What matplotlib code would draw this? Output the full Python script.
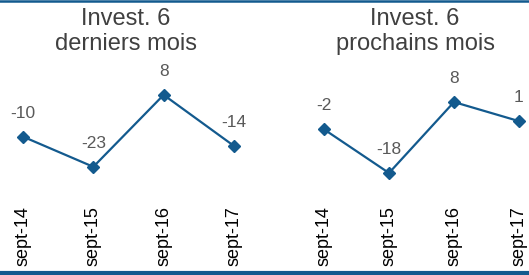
import matplotlib
matplotlib.use("Agg")
import matplotlib.pyplot as plt
from matplotlib.lines import Line2D

plt.rcParams['font.family'] = ['Liberation Sans', 'DejaVu Sans']

# data
periods = ["sept-14", "sept-15", "sept-16", "sept-17"]
invest_past = [-10, -23, 8, -14]
invest_next = [-2, -18, 8, 1]
titles = ["Invest. 6\nderniers mois", "Invest. 6\nprochains mois"]

W, H = 529, 275
blue = "#135a8e"
grey_lbl = "#595959"
grey_title = "#404040"

fig = plt.figure(figsize=(W / 100, H / 100), dpi=100)

# axes boxes in pixels (left, top, right, bottom) + limits
panels = [
    dict(box=(0, 0, 264, 200), xlim=(-0.327, 3.427), ylim=(-37.3, 48.9),
         vals=invest_past, title_x=126),
    dict(box=(264, 0, 529, 200), xlim=(-0.923, 3.154), ylim=(-27.9, 45.4),
         vals=invest_next, title_x=415),
]

for p, title in zip(panels, titles):
    l, t, r, b = p["box"]
    ax = fig.add_axes([l / W, 1 - b / H, (r - l) / W, (b - t) / H])
    ax.patch.set_visible(False)
    x = list(range(len(periods)))
    ax.plot(x, p["vals"], color=blue, lw=1.6, marker="D", ms=6.5,
            clip_on=False)
    for xi, v in zip(x, p["vals"]):
        ax.annotate(str(v), (xi, v), xytext=(0, 17), textcoords="offset points",
                    ha="center", va="center", fontsize=12.5, color=grey_lbl)
    ax.set_xlim(*p["xlim"])
    ax.set_ylim(*p["ylim"])
    ax.set_xticks(x)
    ax.set_xticklabels(periods, rotation=90, fontsize=13, color="black")
    ax.tick_params(axis="x", length=0, pad=4.5)
    ax.set_yticks([])
    for s in ax.spines.values():
        s.set_visible(False)
    fig.text(p["title_x"] / W, 1 - 8 / H, title, ha="center", va="top",
             fontsize=17, color=grey_title, linespacing=1.15)

# border lines top and bottom
fig.add_artist(Line2D([0, 1], [1 - 1 / H, 1 - 1 / H], transform=fig.transFigure,
                      color=blue, lw=1.8))
fig.add_artist(Line2D([0, 1], [2.5 / H, 2.5 / H], transform=fig.transFigure,
                      color=blue, lw=3))

fig.savefig("out.png", dpi=100)
